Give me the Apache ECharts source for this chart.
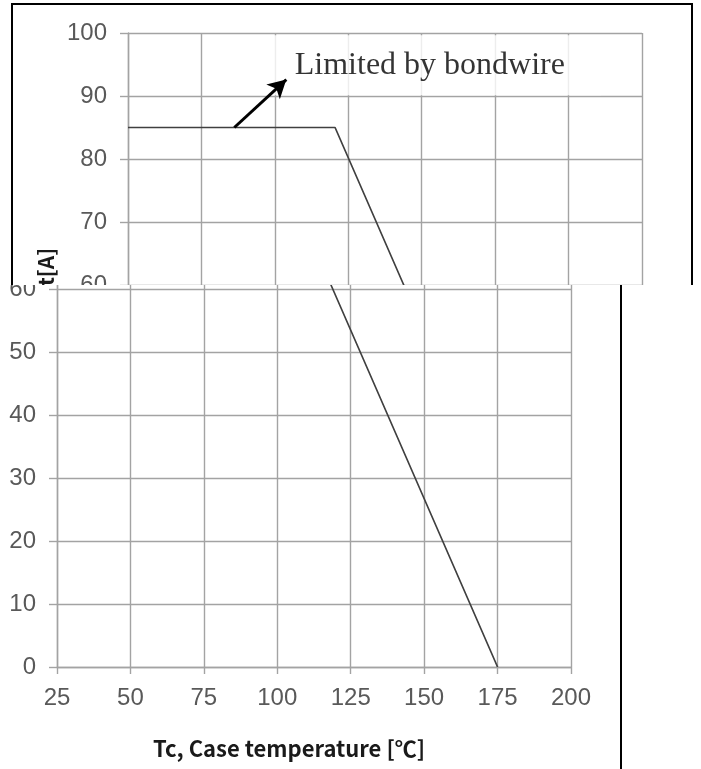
<!DOCTYPE html>
<html>
<head>
<meta charset="utf-8">
<title>Tc derating</title>
<script src="https://cdn.jsdelivr.net/npm/echarts@6/dist/echarts.min.js"></script>
<style>
  html, body { margin: 0; padding: 0; background: #fff; }
  body { position: relative; width: 701px; height: 769px; overflow: hidden; }
  .band { position: absolute; left: 0; width: 701px; overflow: hidden; }
  .plot { position: absolute; width: 820px; height: 800px; }
</style>
</head>
<body>
<div class="band" style="top:0;height:285px">
  <div class="plot" id="upperPlot" style="left:-29px;top:-4px"></div>
</div>
<div class="band" style="top:285px;height:484px">
  <div class="plot" id="lowerPlot" style="left:-100px;top:-285px"></div>
</div>
<script>
// Derating curve: drain current vs case temperature
const caseTemp = [25, 95.5, 175];        // Tc [°C]
const drainCurrent = [85, 85, 0];        // ID [A]

const xTicks = [25, 50, 75, 100, 125, 150, 175, 200];
const yTicks = [0, 10, 20, 30, 40, 50, 60, 70, 80, 90, 100];

const xTitle = 'Tc, Case temperature [℃]';
const yTitle = 'ID, Drain current[A]';

// callout for the flat part of the curve (data coordinates)
const noteText = 'Limited by bondwire';
const noteAt = [71.4, 94.9];
const arrowFrom = [61.2, 85];
const arrowTo = [78.9, 92.6];

const gridGrey = '#a3a3a3';
const labelGrey = '#595959';

function buildOption() {
  const curve = caseTemp.map((t, i) => [t, drainCurrent[i]]);
  return {
    animation: false,
    backgroundColor: '#fff',
    grid: { left: 157, right: 149, top: 37, bottom: 133, containLabel: false },
    graphic: [{
      type: 'rect',
      shape: { x: 41, y: 8, width: 680, height: 1000 },
      style: { fill: 'none', stroke: '#000', lineWidth: 2 },
      silent: true
    }],
    xAxis: {
      type: 'value',
      min: xTicks[0], max: xTicks[xTicks.length - 1], interval: xTicks[1] - xTicks[0],
      name: xTitle,
      nameLocation: 'middle',
      nameGap: 71,
      nameTextStyle: {
        fontFamily: 'Noto Sans CJK SC', fontWeight: 'bold', fontSize: 22,
        color: '#1a1a1a', padding: [0, 50, 0, 0]
      },
      axisLine: { show: true, lineStyle: { color: gridGrey, width: 1.4 } },
      axisTick: { show: true, inside: false, length: 7, lineStyle: { color: gridGrey, width: 1.4 } },
      axisLabel: { fontFamily: 'Liberation Sans', fontSize: 24, color: labelGrey, margin: 19 },
      splitLine: { show: true, lineStyle: { color: gridGrey, width: 1.4 } }
    },
    yAxis: {
      type: 'value',
      min: yTicks[0], max: yTicks[yTicks.length - 1], interval: yTicks[1] - yTicks[0],
      name: yTitle,
      nameLocation: 'middle',
      nameGap: 66,
      nameTextStyle: {
        fontFamily: 'Noto Sans CJK SC', fontWeight: 'bold', fontSize: 21, color: '#1a1a1a'
      },
      axisLine: { show: true, lineStyle: { color: gridGrey, width: 1.4 } },
      axisTick: { show: true, inside: false, length: 8, lineStyle: { color: gridGrey, width: 1.4 } },
      axisLabel: { fontFamily: 'Liberation Sans', fontSize: 24, color: labelGrey, margin: 21 },
      splitLine: { show: true, lineStyle: { color: gridGrey, width: 1.4 } }
    },
    series: [
      {
        name: 'note',
        type: 'scatter',
        z: 5,
        silent: true,
        symbolSize: 1,
        itemStyle: { color: 'rgba(0,0,0,0)' },
        data: [noteAt],
        label: {
          show: true,
          position: 'right',
          distance: 0,
          formatter: noteText,
          fontFamily: 'Liberation Serif',
          fontSize: 32,
          lineHeight: 40,
          color: '#000',
          backgroundColor: '#ffffff',
          padding: [10, 36, 10, 30]
        }
      },
      {
        name: 'ID',
        type: 'line',
        z: 6,
        silent: true,
        symbol: 'none',
        data: curve,
        lineStyle: { color: '#404040', width: 1.7 },
        markLine: {
          silent: true,
          z: 7,
          symbol: ['none', 'arrow'],
          symbolSize: [15, 18],
          label: { show: false },
          lineStyle: { color: '#000', width: 3, type: 'solid' },
          data: [[{ coord: arrowFrom }, { coord: arrowTo }]]
        }
      }
    ]
  };
}

['upperPlot', 'lowerPlot'].forEach(id => {
  const chart = echarts.init(document.getElementById(id), null, { renderer: 'canvas' });
  chart.setOption(buildOption());
});
</script>
</body>
</html>
